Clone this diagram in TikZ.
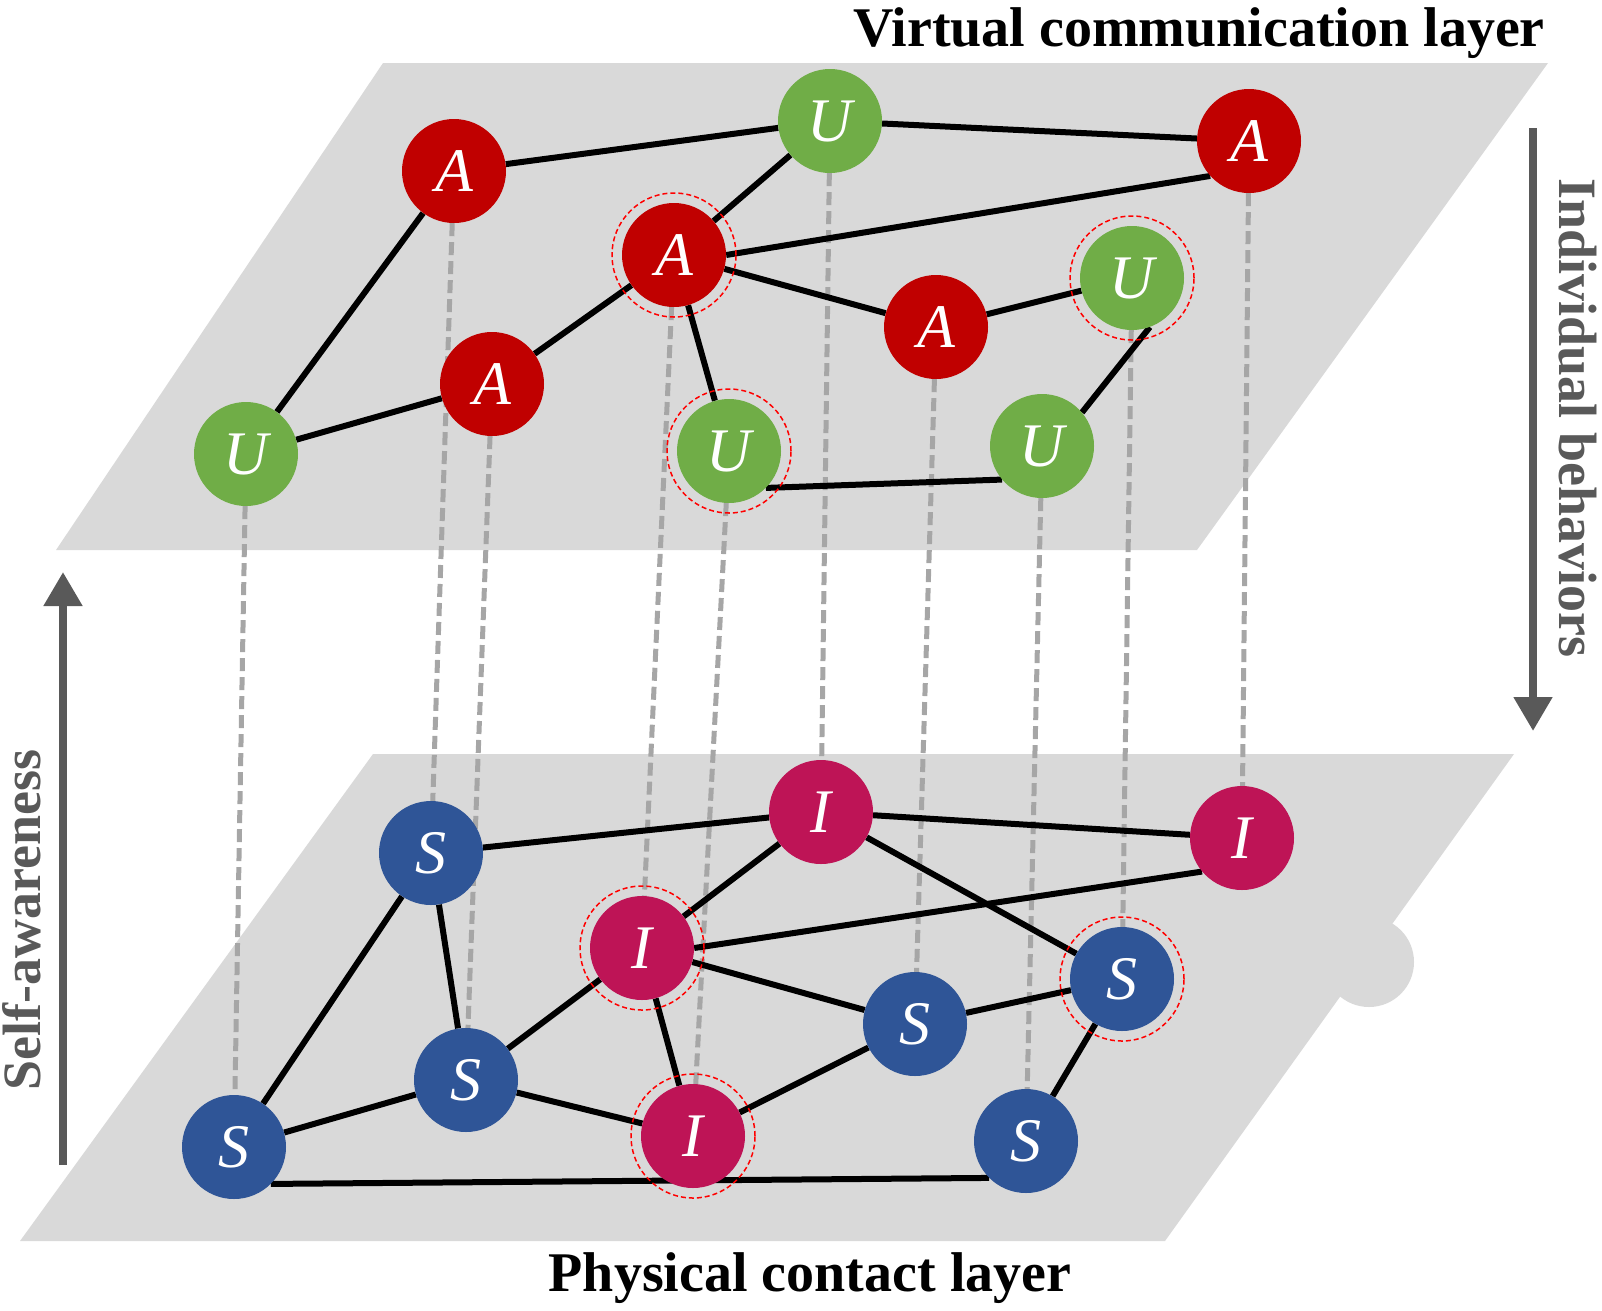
\documentclass[tikz,border=0pt]{standalone}
\usepackage{fontspec}
\setmainfont{Liberation Serif}
\usetikzlibrary{arrows.meta}
\pgfdeclarelayer{background}
\pgfdeclarelayer{middle}
\pgfdeclarelayer{foreground}
\pgfsetlayers{background,middle,main,foreground}

\definecolor{ared}{HTML}{C00000}
\definecolor{ugreen}{HTML}{70AD47}
\definecolor{sblue}{HTML}{2F5597}
\definecolor{icrimson}{HTML}{BE1456}
\definecolor{planegray}{HTML}{D9D9D9}
\definecolor{linkgray}{HTML}{A6A6A6}
\definecolor{arrowgray}{HTML}{595959}

\tikzset{
  agent/.style={circle, minimum size=104pt, inner sep=0pt, text=white,
    font=\fontsize{62}{62}\selectfont\itshape},
  anode/.style={agent, fill=ared},
  unode/.style={agent, fill=ugreen},
  snode/.style={agent, fill=sblue},
  inode/.style={agent, fill=icrimson},
  tie/.style={line width=6pt, draw=black},
  link/.style={line width=5pt, draw=linkgray, dash pattern=on 13pt off 6pt},
  ring/.style={draw=red, line width=1.5pt, dash pattern=on 5pt off 3pt},
  bigarrow/.style={line width=8pt, draw=arrowgray, -{Triangle[width=37pt,length=34pt]}},
  layertitle/.style={font=\fontsize{56}{64}\selectfont\bfseries},
  sidetitle/.style={font=\fontsize{54}{60}\selectfont\bfseries, text=arrowgray}
}

\begin{document}
\begin{tikzpicture}[x=1pt, y=-1pt]
\useasboundingbox (0,0) rectangle (1602,1310);

\begin{pgfonlayer}{background}
\fill[planegray] (383,63) -- (1548,63) -- (1197,550) -- (56,550) -- cycle;
\fill[planegray] (373,754) -- (1514,754) -- (1165,1241) -- (20,1241) -- cycle;
\fill[planegray] (1369,962) circle[radius=45pt];
\end{pgfonlayer}

% virtual communication layer
\node[unode] (u1) at (830,121) {U};
\node[anode] (a1) at (454,171) {A};
\node[anode] (a2) at (1249,141) {A};
\node[anode] (a3) at (674,255) {A};
\node[anode] (a4) at (936,327) {A};
\node[unode] (u2) at (1132,278) {U};
\node[anode] (a5) at (492,384) {A};
\node[unode] (u3) at (246,454) {U};
\node[unode] (u4) at (729,451) {U};
\node[unode] (u5) at (1042,446) {U};

% physical contact layer
\node[inode] (i1) at (821,812) {I};
\node[inode] (i2) at (1242,838) {I};
\node[snode] (s1) at (431,853) {S};
\node[inode] (i3) at (642,948) {I};
\node[snode] (s2) at (1122,979) {S};
\node[snode] (s3) at (915,1024) {S};
\node[snode] (s4) at (466,1080) {S};
\node[snode] (s5) at (234,1147) {S};
\node[inode] (i4) at (693,1136) {I};
\node[snode] (s6) at (1026,1141) {S};

\begin{pgfonlayer}{middle}
\draw[link] (u3) -- (s5);
\draw[link] (a1) -- (s1);
\draw[link] (a5) -- (s4);
\draw[link] (a3) -- (i3);
\draw[link] (u4) -- (i4);
\draw[link] (u1) -- (i1);
\draw[link] (a4) -- (s3);
\draw[link] (u5) -- (s6);
\draw[link] (u2) -- (s2);
\draw[link] (a2) -- (i2);

\draw[tie] (u1) -- (a1);
\draw[tie] (u1) -- (a2);
\draw[tie] (u1) -- (a3);
\draw[tie] (a3.east) -- (a2.222);
\draw[tie] (a1) -- (u3);
\draw[tie] (a3) -- (a4);
\draw[tie] (a3) -- (a5);
\draw[tie] (a3) -- (u4);
\draw[tie] (a4) -- (u2);
\draw[tie] (u2.-70) -- (u5.40);
\draw[tie] (u4.-45) -- (u5.-140);
\draw[tie] (a5) -- (u3);

\draw[tie] (s1) -- (i1);
\draw[tie] (i1) -- (i2);
\draw[tie] (i1) -- (i3);
\draw[tie] (i1) -- (s2);
\draw[tie] (i3.east) -- (i2.220);
\draw[tie] (i3) -- (s3);
\draw[tie] (i3) -- (s4);
\draw[tie] (i3) -- (i4);
\draw[tie] (s2) -- (s3);
\draw[tie] (s2) -- (s6);
\draw[tie] (s3) -- (i4);
\draw[tie] (s4) -- (i4);
\draw[tie] (s4) -- (s1);
\draw[tie] (s1) -- (s5);
\draw[tie] (s4) -- (s5);
\draw[tie] (s5.-45) -- (s6.-135);
\end{pgfonlayer}

\begin{pgfonlayer}{foreground}
\foreach \n in {a3,u2,u4,i3,s2,i4}
  \draw[ring] (\n) circle[radius=62pt];
\end{pgfonlayer}

% titles and arrows
\node[layertitle] (vtitle) at (1199,33) {Virtual communication layer};
\node[layertitle] (ptitle) at (810,1278) {Physical contact layer};
\coordinate (upfoot) at (63,1165);
\coordinate (uptip) at (63,572);
\coordinate (downfoot) at (1533,128);
\coordinate (downtip) at (1533,731);
\draw[bigarrow] (upfoot) -- (uptip);
\draw[bigarrow] (downfoot) -- (downtip);
\node[sidetitle, rotate=90] (selfaw) at (22,920) {Self-awareness};
\node[sidetitle, rotate=-90] (behav) at (1578,418) {Individual behaviors};

\end{tikzpicture}
\end{document}
